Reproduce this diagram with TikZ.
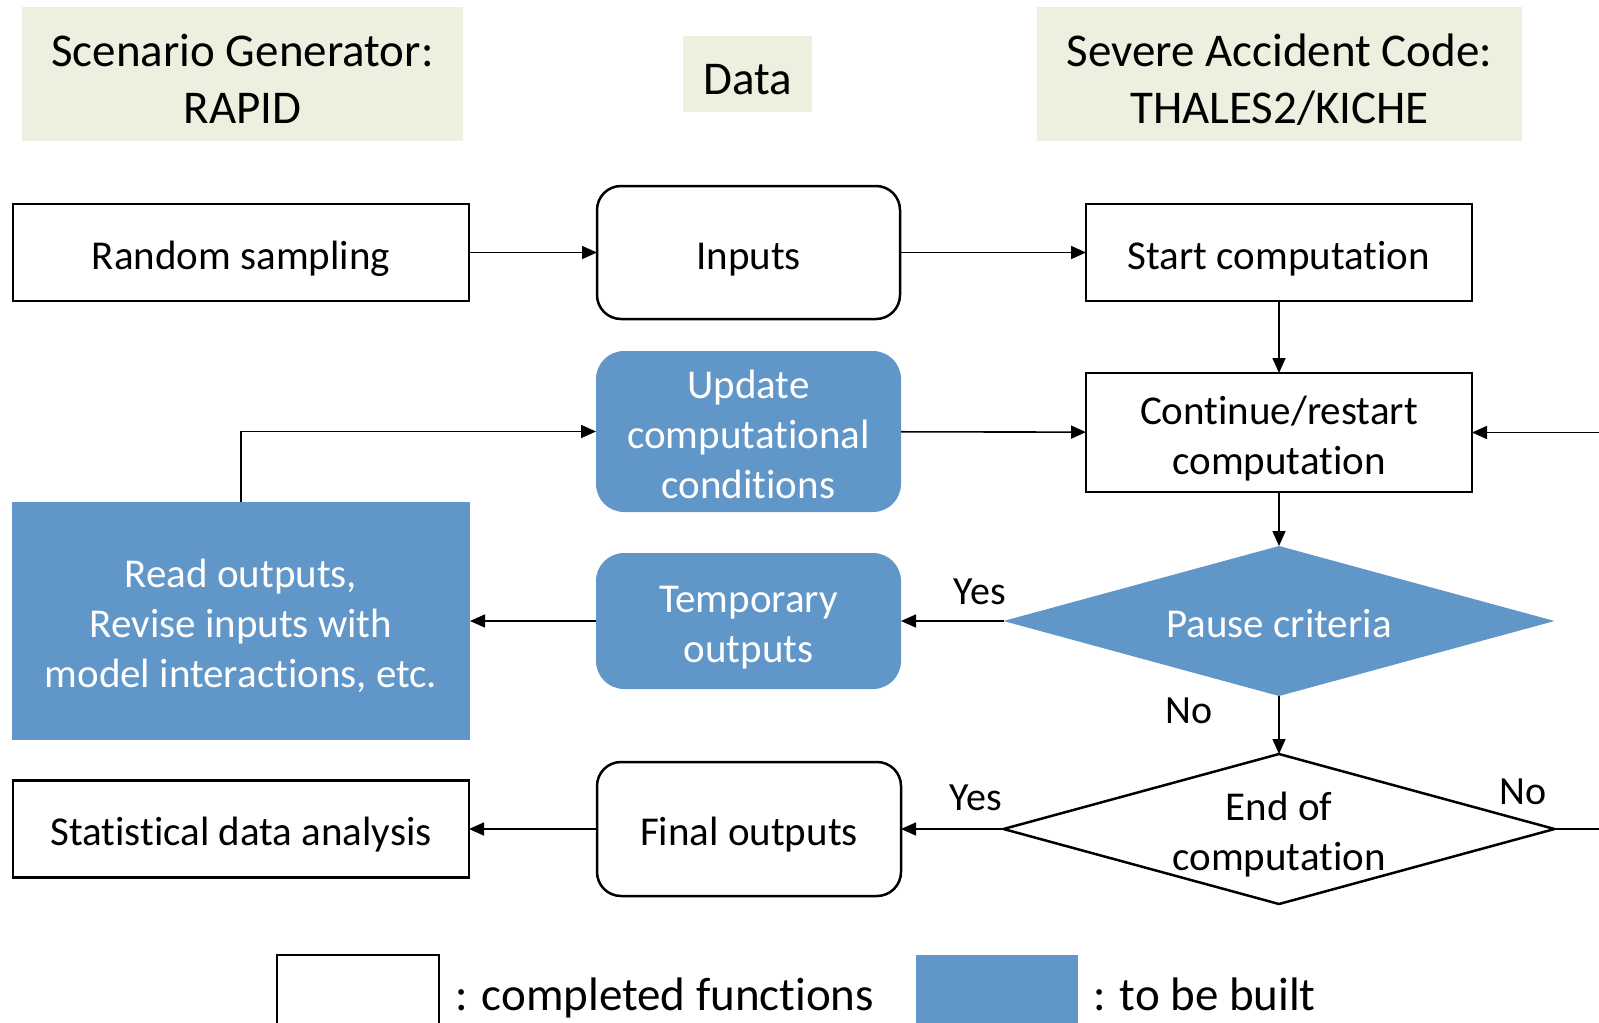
\documentclass[tikz,border=0pt]{standalone}
\usepackage{fontspec}
\setmainfont{Carlito}[Ligatures=NoCommon]
\usetikzlibrary{shapes.geometric,arrows.meta}
\definecolor{hdrfill}{HTML}{EBF1DE}
\definecolor{todoblue}{HTML}{6196C8}
\tikzset{
  % fixed text box heights/depths, so text sits alike in all boxes
  body/.style={font=\fontsize{41}{50}\selectfont, align=center, inner sep=0pt, outer sep=0pt,
    text height=43pt, text depth=10pt},
  twolines/.style={text height=93pt},
  threelines/.style={text height=143pt},
  big/.style={font=\fontsize{47}{57}\selectfont, align=center, inner sep=0pt, outer sep=0pt,
    text height=50pt, text depth=9pt},
  bigtwo/.style={text height=107pt},
  hdr/.style={big, fill=hdrfill},
  donebox/.style={body, draw, line width=2.5pt, fill=white},
  roundbox/.style={donebox, rounded corners=24pt},
  buildbox/.style={body, fill=todoblue, text=white},
  buildround/.style={buildbox, rounded corners=28pt},
  decide/.style={diamond, inner sep=0pt, outer sep=0pt, minimum width=551pt, minimum height=150pt},
  lbl/.style={font=\fontsize{40}{48}\selectfont, inner sep=0pt},
  conn/.style={line width=1.6pt},
  arr/.style={conn, -{Triangle[length=15pt,width=13pt]}},
}
\begin{document}
\begin{tikzpicture}[x=1pt,y=-1pt]
\useasboundingbox (0,0) rectangle (1599,1023);
\clip (0,0) rectangle (1599,1023);

% column headers
\node[hdr, bigtwo, minimum width=441pt, minimum height=134pt] (hgen) at (242.5,74) {Scenario Generator:\\RAPID};
\node[hdr, minimum width=129pt, minimum height=76pt] (hdata) at (747.5,74) {Data};
\node[hdr, bigtwo, minimum width=485pt, minimum height=134pt] (hcode) at (1279.5,74) {Severe Accident Code:\\THALES2/KICHE};

% first row
\node[donebox, minimum width=456pt, minimum height=97pt] (rand) at (241,252.5) {Random sampling};
\node[roundbox, minimum width=303pt, minimum height=133pt] (inputs) at (748.5,252.5) {Inputs};
\node[donebox, minimum width=386pt, minimum height=97pt] (start) at (1279,252.5) {Start computation};

% second row
\node[buildround, threelines, minimum width=305pt, minimum height=161pt] (update) at (748.5,431.5) {Update\\computational\\conditions};
\node[donebox, twolines, minimum width=386pt, minimum height=119pt] (cont) at (1279,432.5) {Continue/restart\\computation};

% third row
\node[buildbox, threelines, minimum width=458pt, minimum height=238pt] (read) at (241,621) {Read outputs,\\Revise inputs with\\model interactions, etc.};
\node[buildround, twolines, minimum width=305pt, minimum height=136pt] (temp) at (748.5,621) {Temporary\\outputs};
\node[decide, fill=todoblue, label={[name=pausetxt, body, text=white]center:Pause criteria}] (pause) at (1279,621) {};

% fourth row
\node[donebox, minimum width=456pt, minimum height=97pt] (stat) at (241,829) {Statistical data analysis};
\node[roundbox, minimum width=304pt, minimum height=134pt] (final) at (749,829) {Final outputs};
\node[decide, draw, line width=2.5pt, fill=white, label={[name=endtxt, body, twolines]center:End of\\computation}] (endc) at (1279,829) {};

% loose ends at the right border
\coordinate (edgein) at (1599,432.5);
\coordinate (edgeout) at (1599,829);

% connectors
\draw[arr] (rand) -- (inputs);
\draw[arr] (inputs) -- (start);
\draw[arr] (start) -- (cont);
\draw[arr] (update) -- (cont);
\draw[arr] (edgein) -- (cont);
\draw[arr] (cont) -- (pause);
\draw[arr] (pause) -- node[lbl, pos=.23, yshift=29pt] (yes1) {Yes} (temp);
\draw[arr] (temp) -- (read);
\draw[arr] (read.north) |- (update.west);
\draw[arr] (pause) -- node[lbl, pos=.26, xshift=-90pt] (no1) {No} (endc);
\draw[arr] (endc) -- node[lbl, pos=.27, yshift=31pt] (yes2) {Yes} (final);
\draw[arr] (final) -- (stat);
\draw[conn] (endc.east) -- (edgeout);
\node[lbl] (no2) at (1523,792) {No};

% legend
\node[donebox, minimum width=162pt, minimum height=140pt] (legdone) at (358,1025) {};
\node[big, anchor=west] (legdonetxt) at (455,990) {: completed functions};
\node[buildbox, minimum width=162pt, minimum height=140pt] (legbuild) at (997,1025) {};
\node[big, anchor=west] (legbuildtxt) at (1093,990) {: to be built};
\end{tikzpicture}
\end{document}
